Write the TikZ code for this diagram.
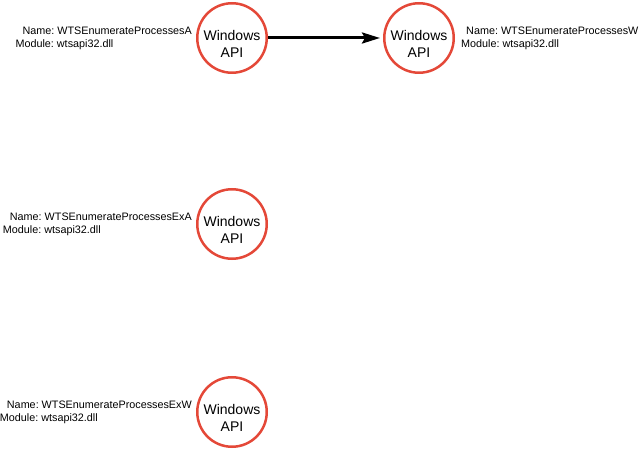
\documentclass[tikz,border=0pt]{standalone}
\usepackage{fontspec}
\setmainfont{Liberation Sans}
\usetikzlibrary{positioning,arrows.meta}

\definecolor{apicolor}{RGB}{228,72,56}
\definecolor{arrowcolor}{RGB}{0,0,0}

\begin{document}
\frenchspacing
\begin{tikzpicture}[x=1pt,y=-1pt,
        api/.style={circle, draw=apicolor, line width=2.5pt, minimum size=69.5pt, inner sep=0pt,
            align=center, text height=39pt, font=\fontsize{14}{17}\selectfont},
        info/.style={align=left, inner sep=0pt, font=\fontsize{10.8}{13}\selectfont}]
        \useasboundingbox (0,0) rectangle (640,449);

        % Draw the API circles
        \node[api] (api1) at (232,38) {Windows\\API};
        \node[api] (api2) at (419,38) {Windows\\API};
        \node[api] (api3) at (232,224) {Windows\\API};
        \node[api] (api4) at (232,412) {Windows\\API};

        % Add the name and module labels
        \node[info, left=4pt of api1] (info1) {\hspace*{7pt}Name: WTSEnumerateProcessesA\\Module: wtsapi32.dll};
        \node[info, right=6pt of api2] (info2) {\hspace*{5pt}Name: WTSEnumerateProcessesW\\Module: wtsapi32.dll};
        \node[info, left=4pt of api3] (info3) {\hspace*{7pt}Name: WTSEnumerateProcessesExA\\Module: wtsapi32.dll};
        \node[info, left=4pt of api4] (info4) {\hspace*{7pt}Name: WTSEnumerateProcessesExW\\Module: wtsapi32.dll};

        % Draw the arrow
        \draw[arrowcolor, line width=3pt, shorten >=3pt,
            -{Stealth[length=18pt,width=11pt,inset=3pt]}] (api1) -- (api2);
    \end{tikzpicture}
\end{document}
